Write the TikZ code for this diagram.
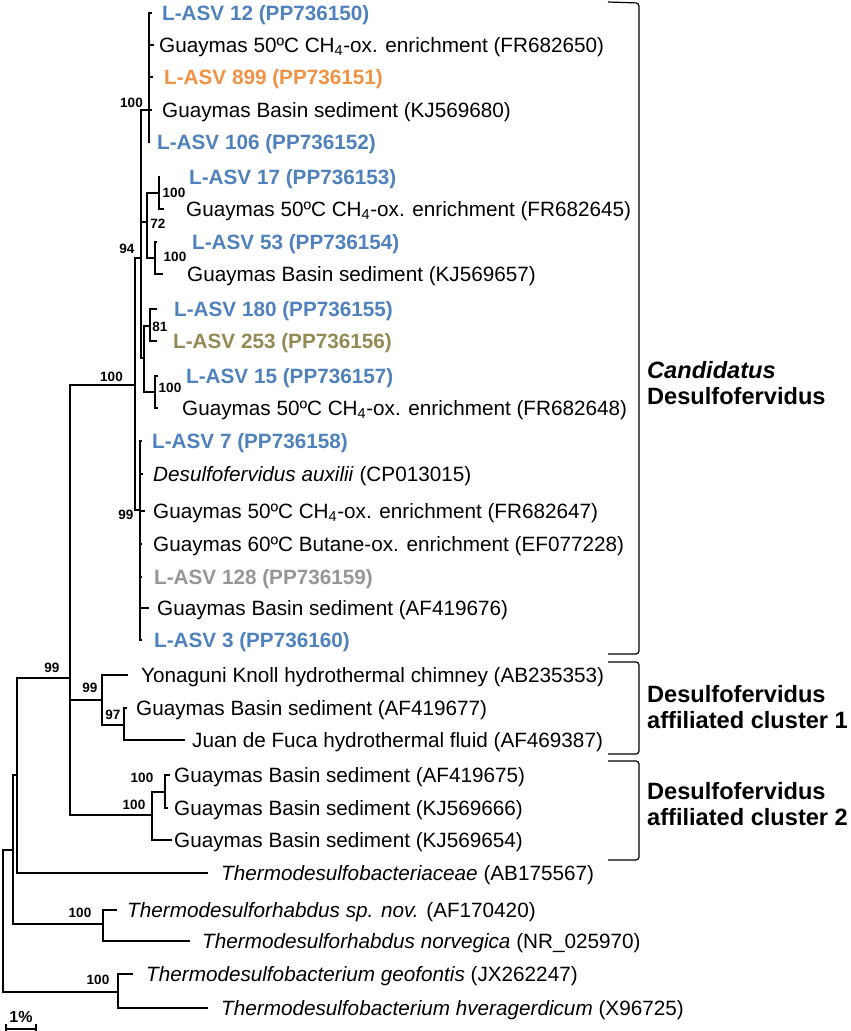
\documentclass[tikz,border=0pt]{standalone}
\usepackage{fontspec}
\setmainfont{Liberation Sans}
\definecolor{asvblue}{RGB}{79,129,189}
\definecolor{asvorange}{RGB}{240,146,68}
\definecolor{asvolive}{RGB}{148,138,84}
\definecolor{asvgray}{RGB}{150,150,150}

\begin{document}
\begin{tikzpicture}[x = 1pt, y = -1pt]
	\tikzstyle{branchStyle} = [line width = 2pt]
	\tikzstyle{bracketStyle} = [line width = 1.2pt, rounded corners = 3pt]
	\tikzstyle{leafStyle} = [anchor = base west, inner sep = 0pt, yshift = -7.5pt, font = \fontsize{20.7}{24}\selectfont]
	\tikzstyle{asvStyle} = [leafStyle, font = \fontsize{20.7}{24}\selectfont\bfseries]
	\tikzstyle{supportStyle} = [inner sep = 0pt, font = \fontsize{13.5}{16}\selectfont\bfseries]
	\tikzstyle{cladeStyle} = [anchor = west, align = left, inner sep = 0pt, font = \fontsize{23.6}{26}\selectfont\bfseries]
	\useasboundingbox (0, 0) rectangle (851, 1031);
	\coordinate (r) at (3, 921);
	\coordinate (n1) at (13, 850);
	\coordinate (n2) at (17, 775);
	\coordinate (n3) at (70, 678);
	\coordinate (n4) at (135, 385);
	\coordinate (n5) at (141, 258);
	\coordinate (n6) at (149, 110);
	\coordinate (n7) at (147, 222);
	\coordinate (n8) at (159, 193);
	\coordinate (n9) at (155, 258);
	\coordinate (n10) at (144, 358);
	\coordinate (n11) at (150, 326);
	\coordinate (n12) at (155, 392);
	\coordinate (n13) at (140, 510);
	\coordinate (n14) at (102, 700);
	\coordinate (n15) at (124, 725);
	\coordinate (n16) at (152, 815);
	\coordinate (n17) at (165, 792);
	\coordinate (n18) at (103, 924);
	\coordinate (n19) at (118, 992);
	\coordinate (l1) at (152, 13);
	\coordinate (l2) at (154, 45);
	\coordinate (l3) at (153, 77);
	\coordinate (l4) at (152, 110);
	\coordinate (l5) at (150, 142);
	\coordinate (l6) at (160, 177);
	\coordinate (l7) at (164, 209);
	\coordinate (l8) at (157, 242);
	\coordinate (l9) at (163, 274);
	\coordinate (l10) at (157, 309);
	\coordinate (l11) at (157, 341);
	\coordinate (l12) at (158, 376);
	\coordinate (l13) at (158, 408);
	\coordinate (l14) at (142, 441);
	\coordinate (l15) at (143, 474);
	\coordinate (l16) at (145, 511);
	\coordinate (l17) at (142, 544);
	\coordinate (l18) at (142, 577);
	\coordinate (l19) at (149, 608);
	\coordinate (l20) at (142, 640);
	\coordinate (l21) at (128, 675);
	\coordinate (l22) at (127, 708);
	\coordinate (l23) at (185, 740);
	\coordinate (l24) at (170, 775);
	\coordinate (l25) at (168, 808);
	\coordinate (l26) at (172, 840);
	\coordinate (l27) at (208, 873);
	\coordinate (l28) at (117, 910);
	\coordinate (l29) at (190, 941);
	\coordinate (l30) at (133, 974);
	\coordinate (l31) at (208, 1008);
	\node[asvStyle, asvblue] (t1) at (162, 13) {L-ASV 12 (PP736150)};
	\node[leafStyle] (t2) at (159, 45) {Guaymas 50ºC CH\textsubscript{4}-ox. enrichment (FR682650)};
	\node[asvStyle, asvorange] (t3) at (164, 77) {L-ASV 899 (PP736151)};
	\node[leafStyle] (t4) at (162, 110) {Guaymas Basin sediment (KJ569680)};
	\node[asvStyle, asvblue] (t5) at (157, 142) {L-ASV 106 (PP736152)};
	\node[asvStyle, asvblue] (t6) at (189, 177) {L-ASV 17 (PP736153)};
	\node[leafStyle] (t7) at (186, 209) {Guaymas 50ºC CH\textsubscript{4}-ox. enrichment (FR682645)};
	\node[asvStyle, asvblue] (t8) at (192, 242) {L-ASV 53 (PP736154)};
	\node[leafStyle] (t9) at (187, 274) {Guaymas Basin sediment (KJ569657)};
	\node[asvStyle, asvblue] (t10) at (174, 309) {L-ASV 180 (PP736155)};
	\node[asvStyle, asvolive] (t11) at (173, 341) {L-ASV 253 (PP736156)};
	\node[asvStyle, asvblue] (t12) at (186, 376) {L-ASV 15 (PP736157)};
	\node[leafStyle] (t13) at (182, 408) {Guaymas 50ºC CH\textsubscript{4}-ox. enrichment (FR682648)};
	\node[asvStyle, asvblue] (t14) at (152, 441) {L-ASV 7 (PP736158)};
	\node[leafStyle] (t15) at (153, 474) {\textit{Desulfofervidus auxilii} (CP013015)};
	\node[leafStyle] (t16) at (153, 511) {Guaymas 50ºC CH\textsubscript{4}-ox. enrichment (FR682647)};
	\node[leafStyle] (t17) at (153, 544) {Guaymas 60ºC Butane-ox. enrichment (EF077228)};
	\node[asvStyle, asvgray] (t18) at (154, 577) {L-ASV 128 (PP736159)};
	\node[leafStyle] (t19) at (157, 608) {Guaymas Basin sediment (AF419676)};
	\node[asvStyle, asvblue] (t20) at (154, 640) {L-ASV 3 (PP736160)};
	\node[leafStyle] (t21) at (141, 675) {Yonaguni Knoll hydrothermal chimney (AB235353)};
	\node[leafStyle] (t22) at (136, 708) {Guaymas Basin sediment (AF419677)};
	\node[leafStyle] (t23) at (192, 740) {Juan de Fuca hydrothermal fluid (AF469387)};
	\node[leafStyle] (t24) at (174, 775) {Guaymas Basin sediment (AF419675)};
	\node[leafStyle] (t25) at (174, 808) {Guaymas Basin sediment (KJ569666)};
	\node[leafStyle] (t26) at (174, 840) {Guaymas Basin sediment (KJ569654)};
	\node[leafStyle] (t27) at (221, 873) {\textit{Thermodesulfobacteriaceae} (AB175567)};
	\node[leafStyle] (t28) at (127, 910) {\textit{Thermodesulforhabdus sp. nov.} (AF170420)};
	\node[leafStyle] (t29) at (202, 941) {\textit{Thermodesulforhabdus norvegica} (NR\_025970)};
	\node[leafStyle] (t30) at (146, 974) {\textit{Thermodesulfobacterium geofontis} (JX262247)};
	\node[leafStyle] (t31) at (221, 1008) {\textit{Thermodesulfobacterium hveragerdicum} (X96725)};
	\draw[branchStyle] (r) |- (n1);
	\draw[branchStyle] (r) |- (n19);
	\draw[branchStyle] (n1) |- (n2);
	\draw[branchStyle] (n1) |- (n18);
	\draw[branchStyle] (n2) |- (n3);
	\draw[branchStyle] (n2) |- (l27);
	\draw[branchStyle] (n3) |- (n4);
	\draw[branchStyle] (n3) |- (n14);
	\draw[branchStyle] (n3) |- (n16);
	\draw[branchStyle] (n4) |- (n5);
	\draw[branchStyle] (n4) |- (n13);
	\draw[branchStyle] (n5) |- (n6);
	\draw[branchStyle] (n5) |- (n7);
	\draw[branchStyle] (n5) |- (n10);
	\draw[branchStyle] (n6) |- (l1);
	\draw[branchStyle] (n6) |- (l2);
	\draw[branchStyle] (n6) |- (l3);
	\draw[branchStyle] (n6) |- (l4);
	\draw[branchStyle] (n6) |- (l5);
	\draw[branchStyle] (n7) |- (n8);
	\draw[branchStyle] (n7) |- (n9);
	\draw[branchStyle] (n8) |- (l6);
	\draw[branchStyle] (n8) |- (l7);
	\draw[branchStyle] (n9) |- (l8);
	\draw[branchStyle] (n9) |- (l9);
	\draw[branchStyle] (n10) |- (n11);
	\draw[branchStyle] (n10) |- (n12);
	\draw[branchStyle] (n11) |- (l10);
	\draw[branchStyle] (n11) |- (l11);
	\draw[branchStyle] (n12) |- (l12);
	\draw[branchStyle] (n12) |- (l13);
	\draw[branchStyle] (n13) |- (l14);
	\draw[branchStyle] (n13) |- (l15);
	\draw[branchStyle] (n13) |- (l16);
	\draw[branchStyle] (n13) |- (l17);
	\draw[branchStyle] (n13) |- (l18);
	\draw[branchStyle] (n13) |- (l19);
	\draw[branchStyle] (n13) |- (l20);
	\draw[branchStyle] (n14) |- (l21);
	\draw[branchStyle] (n14) |- (n15);
	\draw[branchStyle] (n15) |- (l22);
	\draw[branchStyle] (n15) |- (l23);
	\draw[branchStyle] (n16) |- (n17);
	\draw[branchStyle] (n16) |- (l26);
	\draw[branchStyle] (n17) |- (l24);
	\draw[branchStyle] (n17) |- (l25);
	\draw[branchStyle] (n18) |- (l28);
	\draw[branchStyle] (n18) |- (l29);
	\draw[branchStyle] (n19) |- (l30);
	\draw[branchStyle] (n19) |- (l31);
	\node[supportStyle] (b6) at (131.5, 102.5) {100};
	\node[supportStyle] (b5) at (127, 249) {94};
	\node[supportStyle] (b7) at (158, 224) {72};
	\node[supportStyle] (b8) at (174, 193) {100};
	\node[supportStyle] (b9) at (175, 257) {100};
	\node[supportStyle] (b11) at (160, 327) {81};
	\node[supportStyle] (b12) at (170, 388) {100};
	\node[supportStyle] (b4) at (111.5, 377) {100};
	\node[supportStyle] (b13) at (126, 515) {99};
	\node[supportStyle] (b3) at (52, 668) {99};
	\node[supportStyle] (b14) at (90, 688) {99};
	\node[supportStyle] (b15) at (113, 715) {97};
	\node[supportStyle] (b17) at (142, 778) {100};
	\node[supportStyle] (b16) at (134, 805) {100};
	\node[supportStyle] (b18) at (80, 913) {100};
	\node[supportStyle] (b19) at (98, 980) {100};
	\draw[bracketStyle] (608, 2) -- ++(31, 1) |- (608, 654);
	\draw[bracketStyle] (608, 662) -- ++(31, 0) |- (608, 754);
	\draw[bracketStyle] (608, 761) -- ++(31, 0) |- (608, 860);
	\node[cladeStyle] (c1) at (647, 383) {\textit{Candidatus}\\Desulfofervidus};
	\node[cladeStyle] (c2) at (647, 707.5) {Desulfofervidus\\affiliated cluster 1};
	\node[cladeStyle] (c3) at (647, 804.5) {Desulfofervidus\\affiliated cluster 2};
	\coordinate (s1) at (5, 1029);
	\coordinate (s2) at (37, 1029);
	\draw[|-|, line width = 1.6pt] (s1) -- (s2);
	\node[supportStyle, font = \fontsize{16}{18}\selectfont\bfseries] (s) at (21, 1017) {1\%};
\end{tikzpicture}
\end{document}
